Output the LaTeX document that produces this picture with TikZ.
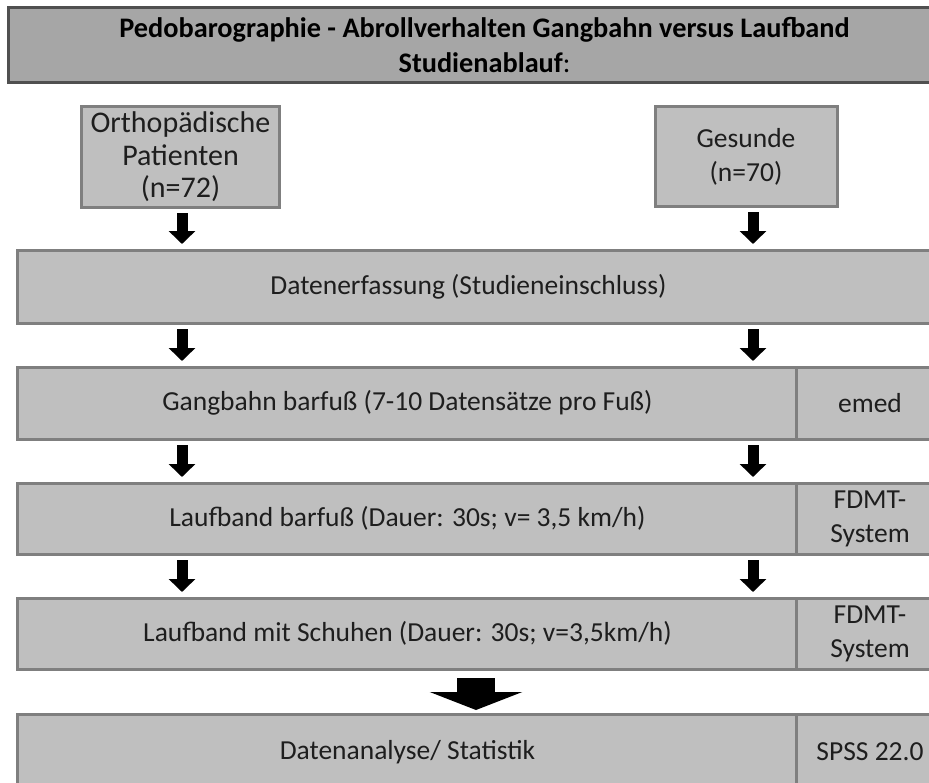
\documentclass[tikz,border=0pt]{standalone}
\usepackage{fontspec}
\setmainfont{Carlito}
\usetikzlibrary{arrows.meta}
\definecolor{rowfill}{HTML}{BFBFBF}
\definecolor{rowline}{HTML}{7F7F7F}
\definecolor{titlefill}{HTML}{A6A6A6}
\definecolor{titleline}{HTML}{505050}
\definecolor{txt}{HTML}{1E1E1E}
\tikzset{
  cell/.style={draw=rowline, fill=rowfill, line width=3bp, inner sep=0pt, outer sep=0pt,
    text=txt, align=center, font=\fontsize{27.5bp}{34bp}\selectfont},
  bigtext/.style={font=\fontsize{30bp}{32.5bp}\selectfont},
  titlebox/.style={draw=titleline, fill=titlefill, line width=3bp, inner sep=0pt, outer sep=0pt,
    text=black, align=center, font=\fontsize{28.3bp}{35bp}\selectfont\bfseries},
  arr/.style={draw=black, line width=11bp, -{Triangle[width=26bp,length=13bp]},
    shorten <=6bp, shorten >=6bp},
  bigarr/.style={draw=black, line width=38bp, -{Triangle[width=92bp,length=18bp]},
    shorten <=9bp, shorten >=4bp}
}
\begin{document}
\begin{tikzpicture}[x=1bp,y=-1bp]
\clip (0,0) rectangle (929,783);
\fill[white] (0,0) rectangle (929,783);
\coordinate (cL) at (182,0);
\coordinate (cR) at (753,0);
\coordinate (cM) at (476,0);
% title
\node[titlebox, minimum width=951bp, minimum height=74bp] (title) at (484.5,45)
  {Pedobarographie - Abrollverhalten Gangbahn versus Laufband\\
   Studienablauf\textmd{:}};
% top boxes
\node[cell, bigtext, minimum width=197bp, minimum height=100bp] (ortho) at (180.5,157)
  {Orthopädische\\Patienten\\(n=72)};
\node[cell, minimum width=182bp, minimum height=99bp] (gesund) at (746,156.5)
  {Gesunde\\(n=70)};
% rows
\node[cell, minimum width=927bp, minimum height=73bp] (r1) at (481.5,286.5)
  {Datenerfassung (Studieneinschluss)\hspace*{26bp}};
\node[cell, minimum width=779bp, minimum height=72bp] (r2) at (407.5,403)
  {Gangbahn barfuß (7-10 Datensätze pro Fuß)};
\node[cell, minimum width=148bp, minimum height=72bp] (r2s) at (870,403) {emed};
\node[cell, minimum width=779bp, minimum height=71bp] (r3) at (407.5,518.5)
  {Laufband barfuß (Dauer: 30s; v= 3,5 km/h)};
\node[cell, minimum width=148bp, minimum height=71bp] (r3s) at (870,518.5) {FDMT-\\System};
\node[cell, minimum width=779bp, minimum height=71bp] (r4) at (407.5,633.5)
  {Laufband mit Schuhen (Dauer: 30s; v=3,5km/h)};
\node[cell, minimum width=148bp, minimum height=71bp] (r4s) at (870,633.5) {FDMT-\\System};
\node[cell, minimum width=779bp, minimum height=76bp] (r5) at (407.5,752)
  {Datenanalyse/ Statistik};
\node[cell, minimum width=148bp, minimum height=76bp] (r5s) at (870,752) {SPSS 22.0};
% arrows
\draw[arr] (cL |- ortho.south) -- (cL |- r1.north);
\draw[arr] (cR |- gesund.south) -- (cR |- r1.north);
\draw[arr] (cL |- r1.south) -- (cL |- r2.north);
\draw[arr] (cR |- r1.south) -- (cR |- r2.north);
\draw[arr] (cL |- r2.south) -- (cL |- r3.north);
\draw[arr] (cR |- r2.south) -- (cR |- r3.north);
\draw[arr] (cL |- r3.south) -- (cL |- r4.north);
\draw[arr] (cR |- r3.south) -- (cR |- r4.north);
\draw[bigarr] (cM |- r4.south) -- (cM |- r5.north);
\end{tikzpicture}
\end{document}
